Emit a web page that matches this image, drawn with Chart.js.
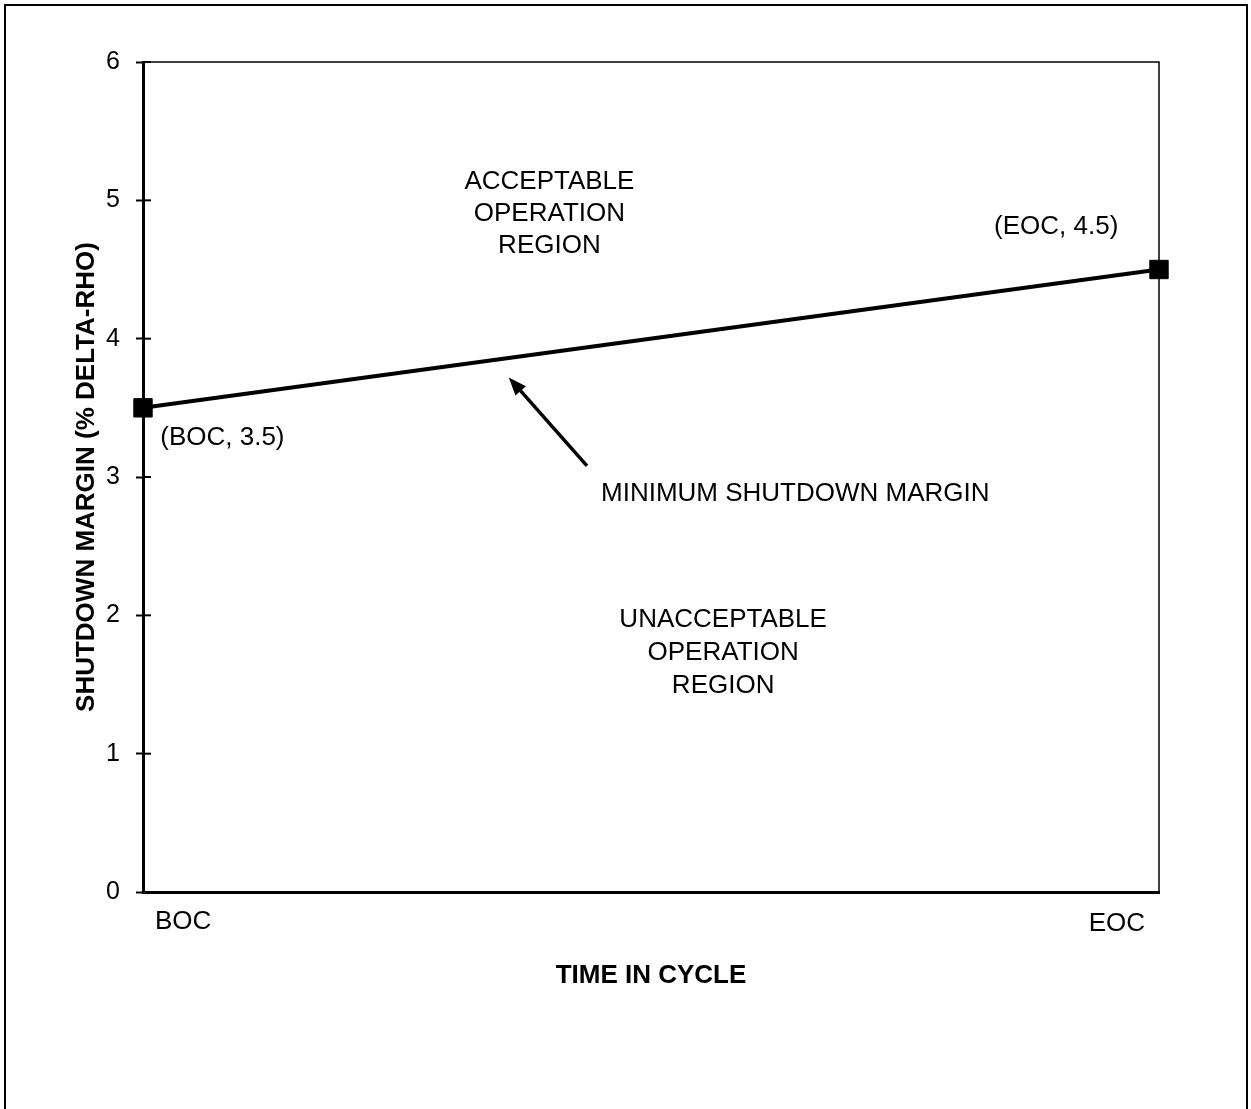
<!DOCTYPE html>
<html>
<head>
<meta charset="utf-8">
<script src="https://cdn.jsdelivr.net/npm/chart.js@4"></script>
<style>
  html, body { margin: 0; padding: 0; background: #fff; overflow: hidden; }
</style>
</head>
<body>
<canvas id="myChart" width="1251" height="1109"></canvas>
<script>
// values
const categories = ["BOC", "EOC"];
const shutdownMargin = [3.5, 4.5];
const pointLabels = ["(BOC, 3.5)", "(EOC, 4.5)"];
const yTicks = [0, 1, 2, 3, 4, 5, 6];
const yTitle = "SHUTDOWN MARGIN (% DELTA-RHO)";
const xTitle = "TIME IN CYCLE";

// text anchors in axis units (x: 0 = BOC .. 1 = EOC, y: % delta-rho)
const pointLabelAt = [[0.017, 3.28], [0.96, 4.81]];
const acceptableText = ["ACCEPTABLE", "OPERATION", "REGION"];
const acceptableAt = [0.40, 4.90];
const unacceptableText = ["UNACCEPTABLE", "OPERATION", "REGION"];
const unacceptableAt = [0.571, 1.73];
const arrowLabel = "MINIMUM SHUTDOWN MARGIN";
const arrowLabelAt = [0.642, 2.88];
const arrowFrom = [0.437, 3.08];
const arrowTo = [0.360, 3.72];

const FONT = '"Liberation Sans", Arial, Helvetica, sans-serif';

const extras = {
  id: "extras",
  beforeDraw(chart) {
    const ctx = chart.ctx;
    ctx.save();
    ctx.fillStyle = "#fff";
    ctx.fillRect(0, 0, chart.width, chart.height);
    // page frame, open at the bottom like the scan
    ctx.strokeStyle = "#000";
    ctx.lineWidth = 2;
    ctx.beginPath();
    ctx.moveTo(5, chart.height);
    ctx.lineTo(5, 5);
    ctx.lineTo(1247, 5);
    ctx.lineTo(1247, chart.height);
    ctx.stroke();
    ctx.restore();
  },
  beforeDatasetsDraw(chart) {
    const ctx = chart.ctx;
    const a = chart.chartArea;
    const y = chart.scales.y;
    ctx.save();
    ctx.strokeStyle = "#000";
    // thin top and right edges of the plot box
    ctx.lineWidth = 1.5;
    ctx.beginPath();
    ctx.moveTo(a.left, a.top);
    ctx.lineTo(a.right, a.top);
    ctx.lineTo(a.right, a.bottom);
    ctx.stroke();
    // tick marks also reach inside the box
    ctx.lineWidth = 2;
    y.ticks.forEach((t) => {
      const py = y.getPixelForValue(t.value);
      if (t.value === 0) return;
      ctx.beginPath();
      ctx.moveTo(a.left, py);
      ctx.lineTo(a.left + 8, py);
      ctx.stroke();
    });
    ctx.restore();
  },
  afterDraw(chart) {
    const ctx = chart.ctx;
    const x = chart.scales.x;
    const y = chart.scales.y;
    const px = (v) => x.getPixelForValue(v);
    const py = (v) => y.getPixelForValue(v);
    ctx.save();
    ctx.fillStyle = "#000";
    ctx.strokeStyle = "#000";
    ctx.font = "26px " + FONT;
    ctx.textBaseline = "middle";

    // category labels under the axis
    ctx.textAlign = "left";
    ctx.fillText(categories[0], px(0) + 12, 922);
    ctx.textAlign = "right";
    ctx.fillText(categories[1], px(1) - 14, 924);

    // point labels
    ctx.textAlign = "left";
    ctx.fillText(pointLabels[0], px(pointLabelAt[0][0]), py(pointLabelAt[0][1]));
    ctx.textAlign = "right";
    ctx.fillText(pointLabels[1], px(pointLabelAt[1][0]), py(pointLabelAt[1][1]));

    // region blocks
    ctx.textAlign = "center";
    const block = (lines, at, gap) => {
      const cy = py(at[1]);
      lines.forEach((s, i) => {
        ctx.fillText(s, px(at[0]), cy + (i - 1) * gap);
      });
    };
    block(acceptableText, acceptableAt, 32);
    block(unacceptableText, unacceptableAt, 33);
    ctx.fillText(arrowLabel, px(arrowLabelAt[0]), py(arrowLabelAt[1]));

    // arrow
    const x0 = px(arrowFrom[0]), y0 = py(arrowFrom[1]);
    const x1 = px(arrowTo[0]), y1 = py(arrowTo[1]);
    const ang = Math.atan2(y1 - y0, x1 - x0);
    const head = 18, half = 7;
    const bx = x1 - head * Math.cos(ang), by = y1 - head * Math.sin(ang);
    ctx.lineWidth = 3.5;
    ctx.beginPath();
    ctx.moveTo(x0, y0);
    ctx.lineTo(bx, by);
    ctx.stroke();
    ctx.beginPath();
    ctx.moveTo(x1, y1);
    ctx.lineTo(bx + half * Math.sin(ang), by - half * Math.cos(ang));
    ctx.lineTo(bx - half * Math.sin(ang), by + half * Math.cos(ang));
    ctx.closePath();
    ctx.fill();
    ctx.restore();
  },
};

Chart.defaults.font.family = FONT;
Chart.defaults.color = "#000";

const myChartRef = document.getElementById("myChart").getContext("2d");

new Chart(myChartRef, {
  type: "line",
  data: {
    labels: categories,
    datasets: [
      {
        label: "Minimum shutdown margin",
        data: shutdownMargin,
        borderColor: "#000",
        borderWidth: 4,
        pointStyle: "rect",
        pointRadius: 13,
        pointBackgroundColor: "#000",
        pointBorderColor: "#000",
        pointBorderWidth: 1,
        tension: 0,
        clip: false,
      },
    ],
  },
  options: {
    responsive: false,
    animation: false,
    events: [],
    layout: { padding: { left: 0, top: 62, right: 92, bottom: 0 } },
    plugins: { legend: { display: false }, tooltip: { enabled: false } },
    scales: {
      x: {
        type: "category",
        offset: false,
        grid: { display: false },
        border: { display: true, color: "#000", width: 3 },
        ticks: { display: false },
        title: {
          display: true,
          text: xTitle,
          font: { size: 26, weight: "bold" },
          padding: { top: 0, bottom: 118 },
        },
        afterFit: (s) => { s.height = 217; },
      },
      y: {
        min: yTicks[0],
        max: yTicks[yTicks.length - 1],
        afterBuildTicks: (s) => { s.ticks = yTicks.map((v) => ({ value: v })); },
        grid: {
          display: true,
          drawOnChartArea: false,
          drawTicks: true,
          tickLength: 7,
          tickWidth: 2,
          tickColor: "#000",
        },
        border: { display: true, color: "#000", width: 3 },
        ticks: { font: { size: 25 }, padding: 16, color: "#000" },
        title: {
          display: true,
          text: yTitle,
          font: { size: 26, weight: "bold" },
          padding: { top: 71, bottom: 0 },
        },
        afterFit: (s) => { s.width = 143; },
      },
    },
  },
  plugins: [extras],
});
</script>
</body>
</html>
